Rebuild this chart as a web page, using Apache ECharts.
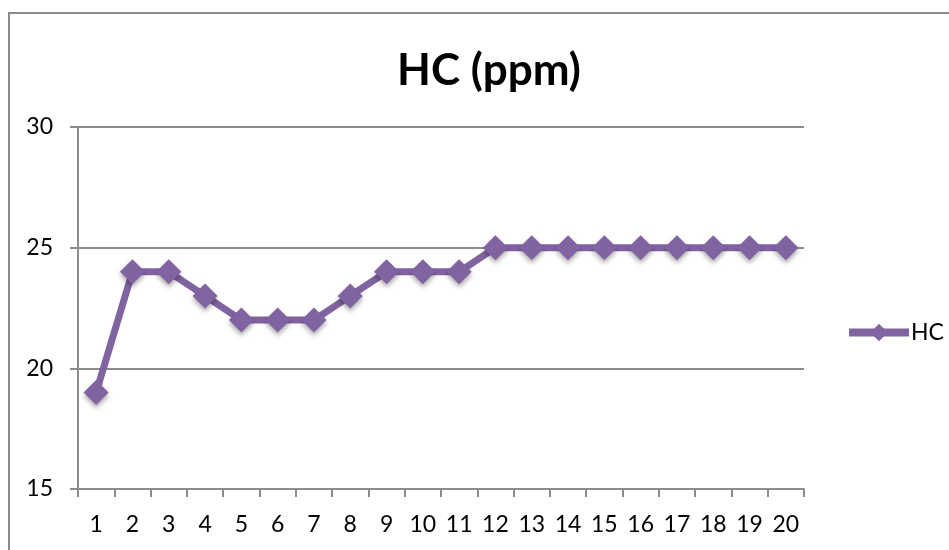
<!DOCTYPE html>
<html>
<head>
<meta charset="utf-8">
<script src="https://cdn.jsdelivr.net/npm/echarts@6/dist/echarts.min.js"></script>
<style>
  html, body { margin: 0; padding: 0; background: #fff; }
  #chart { width: 949px; height: 550px; }
</style>
</head>
<body>
<div id="chart"></div>
<script>
// 分类与数据
const categories = ['1','2','3','4','5','6','7','8','9','10','11','12','13','14','15','16','17','18','19','20'];
const hcValues = [19, 24, 24, 23, 22, 22, 22, 23, 24, 24, 24, 25, 25, 25, 25, 25, 25, 25, 25, 25];
const seriesName = 'HC';

const chart = echarts.init(document.getElementById('chart'));
const fontFamily = 'Lato, "Open Sans", sans-serif';
const gray = '#8c8c8c';

const option = {
  backgroundColor: '#fff',
  animation: false,
  graphic: [
    {
      type: 'rect',
      shape: { x: 9, y: 13, width: 1000, height: 600 },
      style: { fill: 'none', stroke: '#8a8a8a', lineWidth: 2 },
      silent: true
    }
  ],
  title: {
    text: 'HC (ppm)',
    left: 484,
    top: 44,
    textAlign: 'center',
    textStyle: { fontFamily, fontSize: 44, fontWeight: 'bold', color: '#000' }
  },
  legend: {
    data: [seriesName],
    left: 840,
    top: 316,
    itemWidth: 60,
    itemHeight: 22,
    itemGap: 4,
    lineStyle: { width: 8 },
    textStyle: { fontFamily, fontSize: 23, color: '#000', padding: [0, 0, 0, -3] }
  },
  grid: { left: 78, right: 145, top: 127, bottom: 61, containLabel: false },
  xAxis: {
    type: 'category',
    data: categories,
    boundaryGap: true,
    axisLine: { lineStyle: { color: gray, width: 2 } },
    axisTick: { show: true, interval: 0, length: 8, lineStyle: { color: gray, width: 2 } },
    axisLabel: { interval: 0, margin: 24, fontFamily, fontSize: 23, color: '#000' }
  },
  yAxis: {
    type: 'value',
    min: 15,
    max: 30,
    interval: 5,
    axisLine: { show: true, lineStyle: { color: gray, width: 2 } },
    axisTick: { show: true, length: 8, lineStyle: { color: gray, width: 2 } },
    splitLine: { show: true, lineStyle: { color: gray, width: 2 } },
    axisLabel: { margin: 25, fontFamily, fontSize: 23, color: '#000' }
  },
  series: [
    {
      name: seriesName,
      type: 'line',
      data: hcValues,
      symbol: 'diamond',
      symbolSize: 25,
      lineStyle: { color: '#8064A2', width: 7 },
      itemStyle: {
        color: '#8064A2',
        shadowColor: 'rgba(0,0,0,0.35)',
        shadowBlur: 5,
        shadowOffsetY: 3
      }
    }
  ]
};
chart.setOption(option);
</script>
</body>
</html>
